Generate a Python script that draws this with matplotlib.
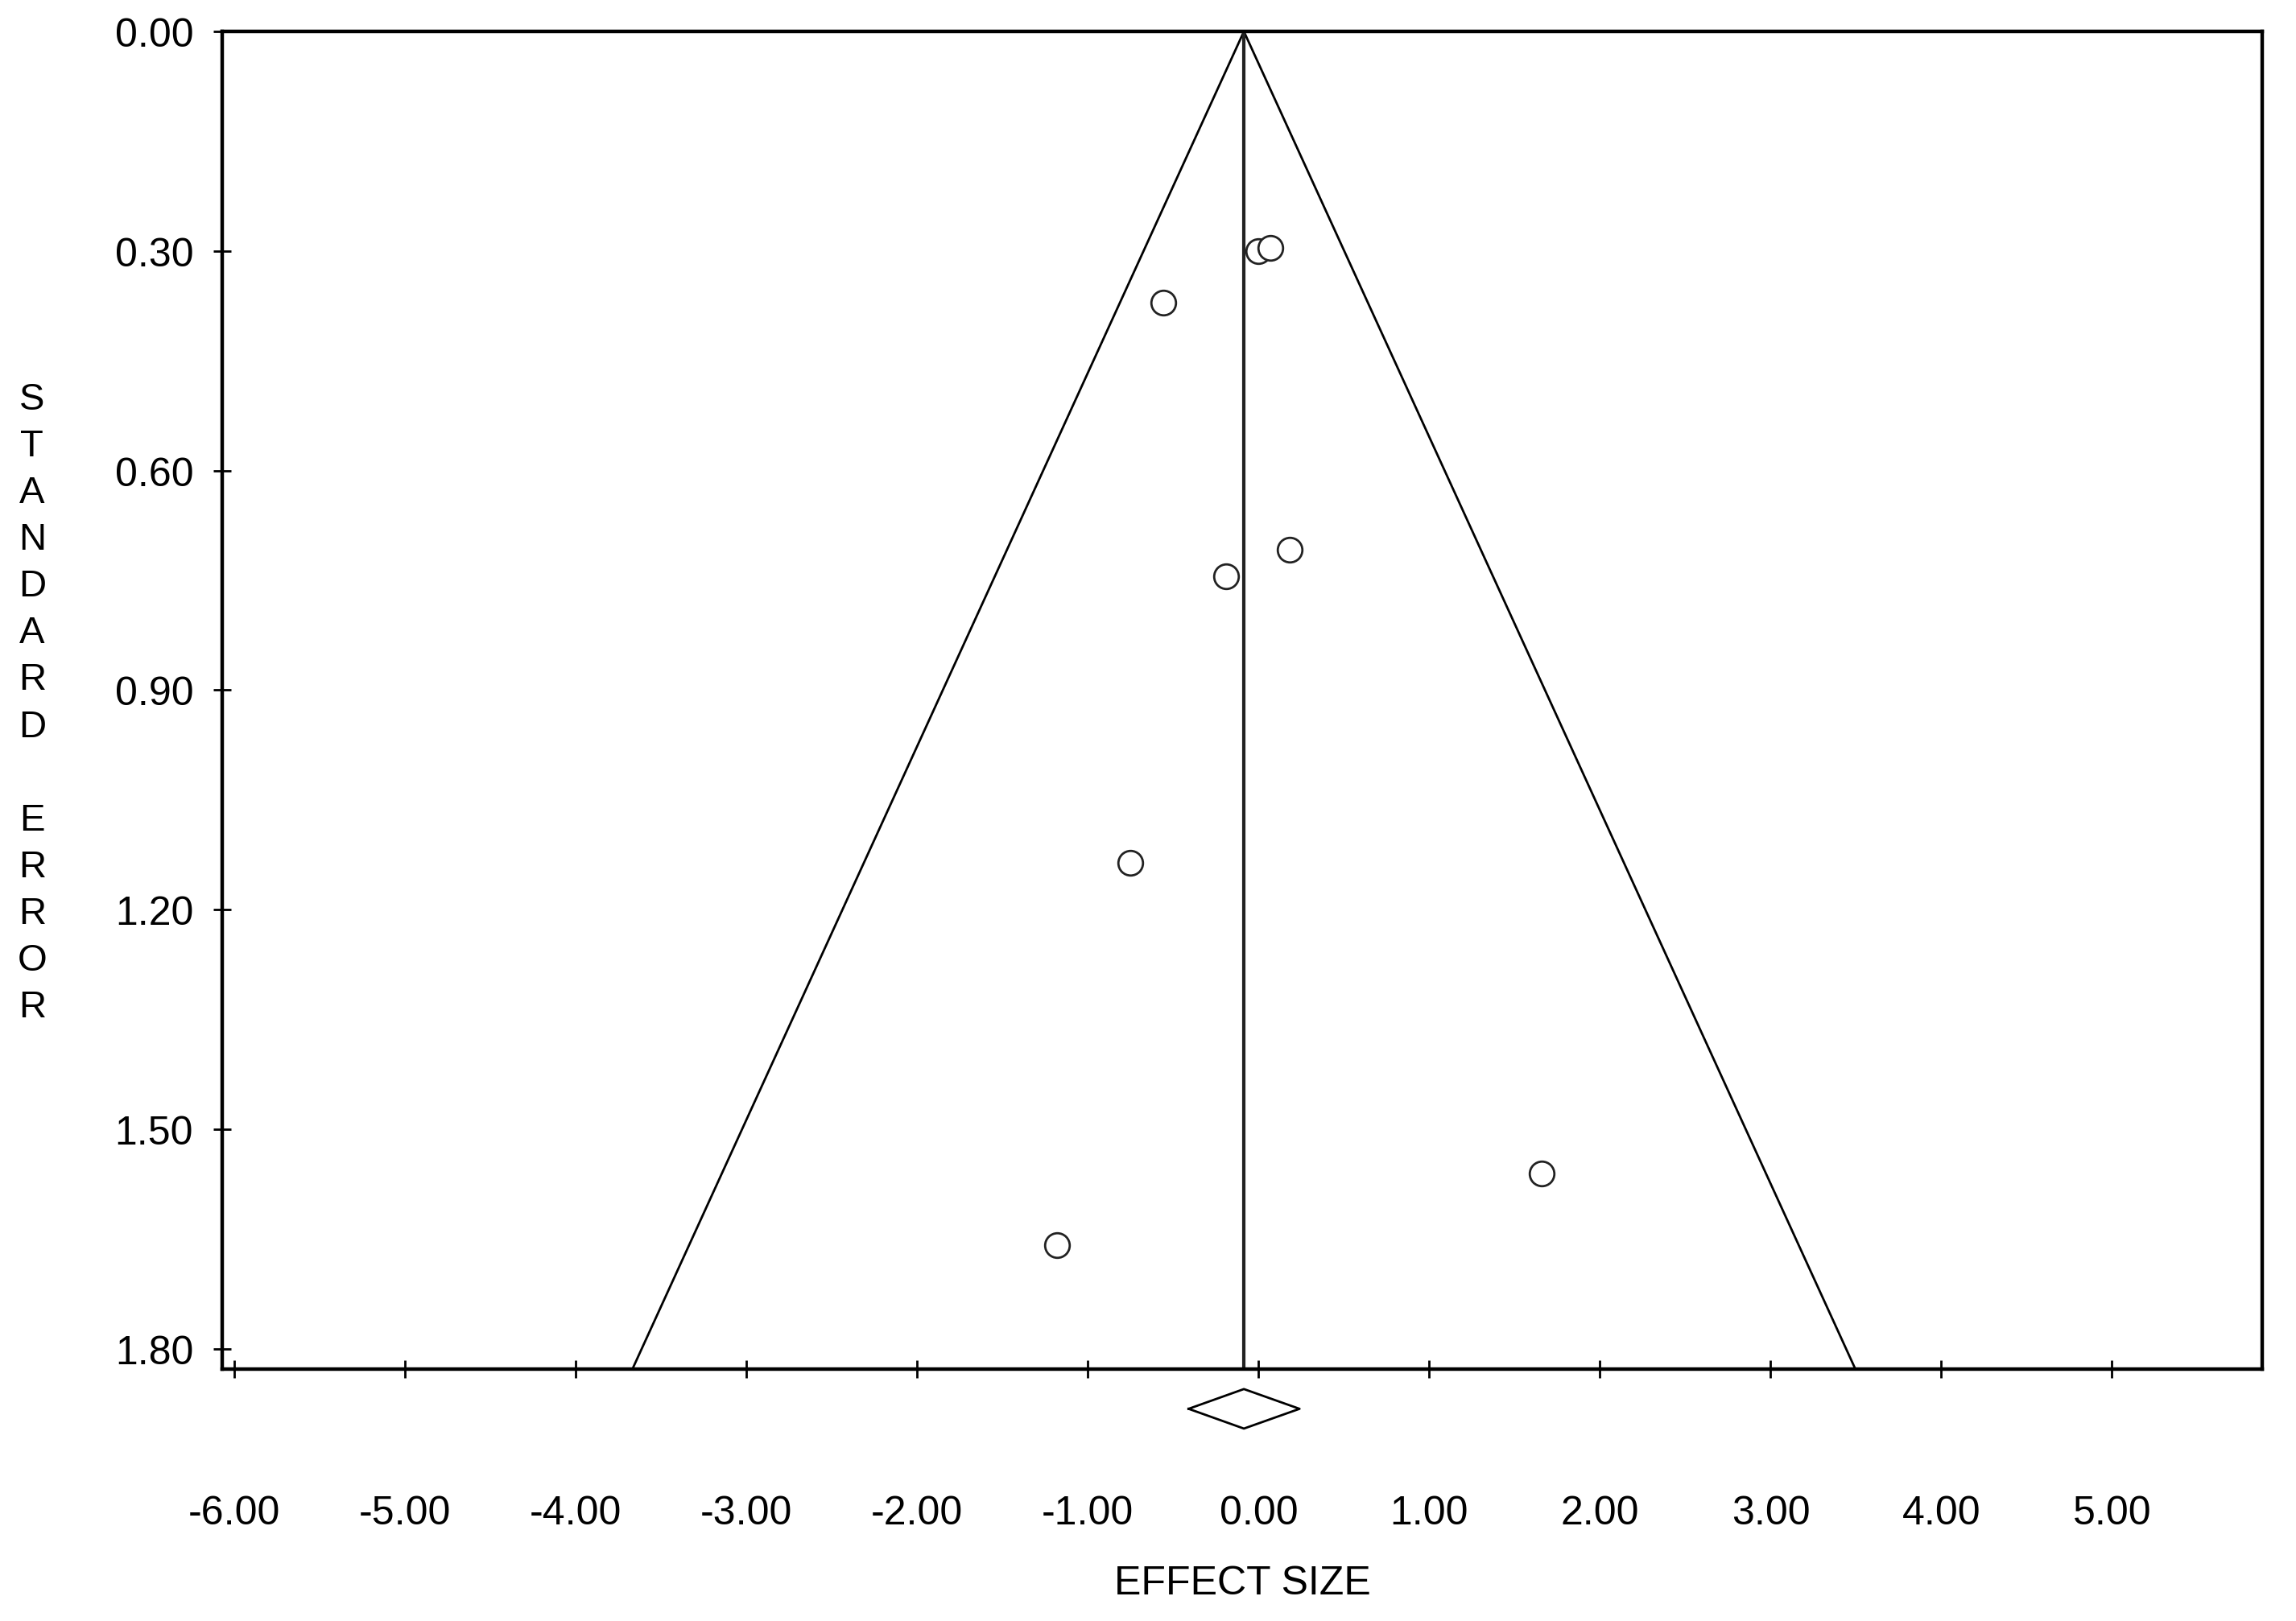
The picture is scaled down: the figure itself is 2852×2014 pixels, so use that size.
import numpy as np
import matplotlib
matplotlib.use('Agg')
import matplotlib.pyplot as plt
from matplotlib import font_manager

# study effect sizes and standard errors
effect = [0.00, 0.07, -0.56, 0.18, -0.19, -0.75, 1.66, -1.18]
se = [0.300, 0.296, 0.370, 0.708, 0.744, 1.136, 1.560, 1.658]

mean_es = -0.086
ci_low = -0.41
ci_high = 0.24

xticks = [-6, -5, -4, -3, -2, -1, 0, 1, 2, 3, 4, 5]
yticks = [0.0, 0.3, 0.6, 0.9, 1.2, 1.5, 1.8]
xmin, xmax = -6.07, 5.88
ymax = 1.828

names = set(f.name for f in font_manager.fontManager.ttflist)
narrow = 'Liberation Sans Narrow' if 'Liberation Sans Narrow' in names else 'Liberation Sans'
print(narrow, 'Liberation Sans' in names)

plt.rcParams['font.family'] = ['Liberation Sans', 'DejaVu Sans']

fig = plt.figure(figsize=(28.52, 20.15), dpi=100)
ax = fig.add_axes([0.0969, 0.1552, 0.9853 - 0.0969, 0.9801 - 0.1552])

# funnel
se_lim = np.array([0, ymax])
ax.plot(mean_es - 1.96 * se_lim, se_lim, color='black', lw=2.0, clip_on=False)
ax.plot(mean_es + 1.96 * se_lim, se_lim, color='black', lw=2.0, clip_on=False)
ax.plot([mean_es, mean_es], [0, ymax], color='#222222', lw=3.0)

ax.scatter(effect, se, s=22**2, facecolors='white', edgecolors='#222222',
           linewidths=2.0, zorder=3)

# diamond for combined effect
dy = 0.027
dc = 1.882
ax.plot([ci_low, mean_es, ci_high, mean_es, ci_low],
        [dc, dc - dy, dc, dc + dy, dc], color='black', lw=2.0, clip_on=False)

ax.set_xlim(xmin, xmax)
ax.set_ylim(ymax, 0)
ax.set_xticks(xticks)
ax.set_xticklabels(['%.2f' % v for v in xticks], family=narrow, fontsize=36)
ax.set_yticks(yticks)
ax.set_yticklabels(['%.2f' % v for v in yticks], fontsize=36)
ax.tick_params(axis='x', direction='inout', length=16, width=2, pad=104)
ax.tick_params(axis='y', direction='inout', length=16, width=2, pad=18)
for s in ax.spines.values():
    s.set_linewidth(3.2)

ax.set_xlabel('EFFECT SIZE', family=narrow, fontsize=36, labelpad=30)

fig.text(0.014, 0.566, '\n'.join('STANDARD ERROR'), ha='center', va='center',
         fontsize=34, linespacing=1.415)

fig.savefig('out.png', dpi=100, facecolor='white')
